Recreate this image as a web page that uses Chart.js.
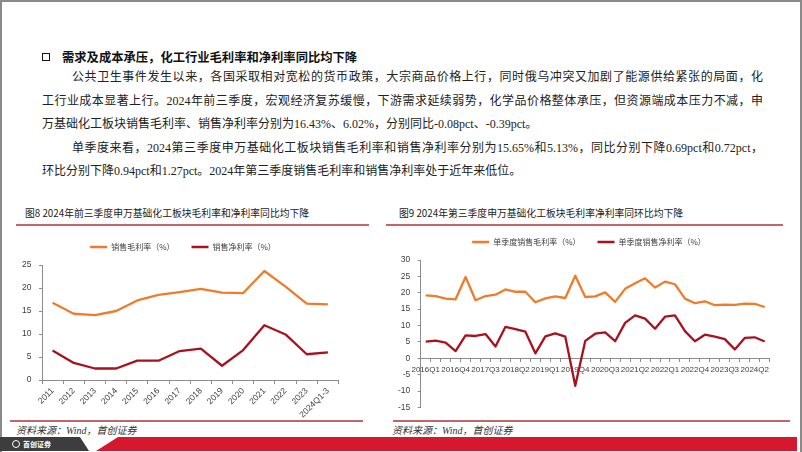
<!DOCTYPE html>
<html lang="zh">
<head>
<meta charset="UTF-8">
<title>化工行业毛利率和净利率</title>
<script src="https://cdn.jsdelivr.net/npm/chart.js"></script>
<style>
    html, body { margin: 0; padding: 0; background: #fff; }
    .page {
        position: relative;
        width: 802px;
        height: 452px;
        overflow: hidden;
        font-family: "Noto Sans CJK SC", sans-serif;
        color: #222;
    }
    .frame {
        position: absolute; left: 0; top: 0; width: 798px; height: 452px;
        border: 2px solid #8a8a8a; border-bottom: none;
    }
    .abs { position: absolute; white-space: nowrap; }
    .heading { left: 62px; top: 49px; font-size: 12.3px; line-height: 16px; font-weight: bold; color: #111; }
    .box { left: 42px; top: 53px; width: 6px; height: 6px; border: 1.6px solid #111; }
    .ln {
        position: absolute; height: 16px; line-height: 16px;
        font-family: "Liberation Serif", "Noto Sans CJK SC", serif;
        font-size: 12px; color: #222; white-space: nowrap;
    }
    .ln.full { text-align: justify; text-align-last: justify; white-space: normal; overflow: hidden; }
    .ctitle { font-size: 9.8px; line-height: 14px; color: #222; }
    .rule { position: absolute; height: 2px; background: #c2656d; }
    .src { font-family: "Liberation Serif", "Noto Sans CJK SC", serif; font-style: italic; font-size: 10px; line-height: 12px; color: #333; }
    canvas { position: absolute; }
    .banner { position: absolute; left: 0; top: 437px; width: 797px; height: 14px; }
    .banner .red { position: absolute; inset: 0; background: #d5182d; clip-path: polygon(118px 0, 100% 0, 100% 100%, 96px 100%); }
    .banner .gray { position: absolute; inset: 0; background: #3d3d3d; clip-path: polygon(0 0, 80px 0, 89px 100%, 0 100%); }
    .logo { position: absolute; left: 12px; top: 2px; color: #fff; font-size: 7px; line-height: 10px; font-weight: bold; }
    .logo span { display: inline-block; width: 6px; height: 6px; border: 1.3px solid #fff; border-radius: 50%; vertical-align: -1px; margin-right: 3px; }
</style>
</head>
<body>
<div class="page">
    <div class="frame"></div>

    <div class="abs box"></div>
    <div class="abs heading">需求及成本承压，化工行业毛利率和净利率同比均下降</div>

    <div class="ln full" style="top:69px;left:72px;width:691px">公共卫生事件发生以来，各国采取相对宽松的货币政策，大宗商品价格上行，同时俄乌冲突又加剧了能源供给紧张的局面，化</div>
    <div class="ln full" style="top:92.5px;left:42px;width:721px">工行业成本显著上行。2024年前三季度，宏观经济复苏缓慢，下游需求延续弱势，化学品价格整体承压，但资源端成本压力不减，申</div>
    <div class="ln" style="top:116px;left:42px">万基础化工板块销售毛利率、销售净利率分别为16.43%、6.02%，分别同比-0.08pct、-0.39pct。</div>
    <div class="ln full" style="top:139.5px;left:72px;width:691px">单季度来看，2024第三季度申万基础化工板块销售毛利率和销售净利率分别为15.65%和5.13%，同比分别下降0.69pct和0.72pct，</div>
    <div class="ln" style="top:163px;left:42px">环比分别下降0.94pct和1.27pct。2024年第三季度销售毛利率和销售净利率处于近年来低位。</div>

    <div class="abs ctitle" style="left:25px;top:206px">图8 2024年前三季度申万基础化工板块毛利率和净利率同比均下降</div>
    <div class="abs ctitle" style="left:399px;top:206px">图9 2024年第三季度申万基础化工板块毛利率净利率同环比均下降</div>
    <div class="rule" style="left:16px;top:224px;width:353px"></div>
    <div class="rule" style="left:386px;top:224px;width:397px"></div>

    <canvas id="annualChart" width="350" height="194" style="left:0;top:226px"></canvas>
    <canvas id="quarterChart" width="400" height="199" style="left:390px;top:221px"></canvas>

    <div class="rule" style="left:10px;top:420px;width:353px"></div>
    <div class="rule" style="left:393px;top:420px;width:397px"></div>
    <div class="abs src" style="left:16px;top:425px">资料来源：Wind，首创证券</div>
    <div class="abs src" style="left:392px;top:425px">资料来源：Wind，首创证券</div>

    <div class="banner">
        <div class="red"></div>
        <div class="gray"></div>
        <div class="logo"><span></span>首创证券</div>
    </div>
</div>

<script>
    // 图8: 年度数据
    const years = ['2011', '2012', '2013', '2014', '2015', '2016', '2017', '2018', '2019', '2020', '2021', '2022', '2023', '2024Q1-3'];
    const grossAnnual = [16.8, 14.4, 14.1, 15.0, 17.3, 18.5, 19.1, 19.8, 19.0, 18.9, 23.7, 20.3, 16.6, 16.43];
    const netAnnual = [6.4, 3.7, 2.5, 2.5, 4.2, 4.2, 6.3, 6.8, 3.1, 6.5, 11.9, 9.9, 5.6, 6.02];

    // 图9: 单季度数据
    const quarters = ['2016Q1', '2016Q2', '2016Q3', '2016Q4', '2017Q1', '2017Q2', '2017Q3', '2017Q4',
        '2018Q1', '2018Q2', '2018Q3', '2018Q4', '2019Q1', '2019Q2', '2019Q3', '2019Q4',
        '2020Q1', '2020Q2', '2020Q3', '2020Q4', '2021Q1', '2021Q2', '2021Q3', '2021Q4',
        '2022Q1', '2022Q2', '2022Q3', '2022Q4', '2023Q1', '2023Q2', '2023Q3', '2023Q4',
        '2024Q1', '2024Q2', '2024Q3'];
    const grossQuarter = [19.2, 19.0, 18.2, 18.0, 24.8, 17.7, 19.0, 19.4, 21.0, 20.3, 20.3, 17.1,
        18.3, 18.9, 18.4, 25.2, 18.7, 18.9, 20.1, 17.2, 21.2, 22.9, 24.4, 21.6,
        23.4, 22.6, 18.2, 16.8, 17.4, 16.2, 16.34, 16.3, 16.7, 16.59, 15.65];
    const netQuarter = [5.1, 5.4, 4.8, 2.2, 7.0, 6.8, 7.4, 3.6, 9.6, 8.9, 8.1, 1.5,
        6.7, 7.6, 6.6, -8.4, 5.3, 7.5, 7.9, 5.2, 10.8, 13.1, 12.1, 9.0,
        12.7, 13.1, 8.3, 5.2, 7.2, 6.6, 5.85, 2.7, 6.2, 6.4, 5.13];
    const quarterTickStep = 3;

    const ORANGE = '#ee7d2b';
    const DARKRED = '#a8121f';
    const AXIS = '#8c8c8c';
    const tickFont = { family: 'Liberation Sans', size: 8.5 };
    const quarterFont = { family: 'Liberation Sans', size: 8 };
    const legendFont = { family: 'Noto Sans CJK SC', size: 8 };

    // extra room under the legend, and slide it sideways to where the report has it
    const legendTweak = {
        id: 'legendTweak',
        beforeLayout(chart, args, opts) {
            const lg = chart.legend;
            if (lg && !lg._tweaked) {
                const fit = lg.fit;
                lg.fit = function () { fit.call(this); this.height += opts.gap || 0; };
                lg._tweaked = true;
            }
        },
        afterLayout(chart, args, opts) {
            const lg = chart.legend;
            if (lg) {
                lg.left += opts.dx || 0;
                lg.right += opts.dx || 0;
            }
        }
    };

    function lineSet(label, data, color) {
        return {
            label: label,
            data: data,
            borderColor: color,
            backgroundColor: color,
            borderWidth: 2.3,
            pointBorderWidth: 2.5,
            pointRadius: 0,
            pointStyle: 'line',
            tension: 0,
            borderJoinStyle: 'round',
            fill: false
        };
    }

    function legendOpts() {
        return {
            display: true,
            position: 'top',
            labels: {
                usePointStyle: true,
                pointStyleWidth: 17,
                padding: 17,
                color: '#404040',
                font: legendFont
            }
        };
    }

    function yAxis(min, max, width) {
        return {
            min: min,
            max: max,
            afterFit: (scale) => { scale.width = width; },
            ticks: { stepSize: 5, color: '#404040', font: tickFont, padding: 7.5 },
            grid: { drawOnChartArea: false, drawTicks: true, tickLength: 3, color: AXIS },
            border: { display: true, color: AXIS, width: 1 }
        };
    }

    new Chart(document.getElementById('annualChart'), {
        type: 'line',
        data: {
            labels: years,
            datasets: [
                lineSet('销售毛利率（%）', grossAnnual, ORANGE),
                lineSet('销售净利率（%）', netAnnual, DARKRED)
            ]
        },
        options: {
            responsive: false,
            animation: false,
            layout: { padding: { left: 0, right: 11.5, top: 0, bottom: 0 } },
            plugins: {
                legend: legendOpts(),
                legendTweak: { gap: 4, dx: 13.75 },
                tooltip: { enabled: false }
            },
            scales: {
                x: {
                    offset: true,
                    afterFit: (scale) => { scale.height = 40; },
                    ticks: { autoSkip: false, minRotation: 45, maxRotation: 45, color: '#404040', font: tickFont, padding: 2 },
                    grid: { offset: true, drawOnChartArea: false, drawTicks: true, tickLength: 4, color: AXIS },
                    border: { display: true, color: AXIS, width: 1 }
                },
                y: yAxis(0, 25, 42)
            }
        },
        plugins: [legendTweak]
    });

    new Chart(document.getElementById('quarterChart'), {
        type: 'line',
        data: {
            labels: quarters,
            datasets: [
                lineSet('单季度销售毛利率（%）', grossQuarter, ORANGE),
                lineSet('单季度销售净利率（%）', netQuarter, DARKRED)
            ]
        },
        options: {
            responsive: false,
            animation: false,
            layout: { padding: { left: 0, right: 20.3, top: 0, bottom: 11.3 } },
            plugins: {
                legend: legendOpts(),
                legendTweak: { gap: 4, dx: 9.15 },
                tooltip: { enabled: false }
            },
            scales: {
                x: {
                    offset: true,
                    position: { y: 0 },
                    ticks: {
                        autoSkip: false,
                        maxRotation: 0,
                        minRotation: 0,
                        color: '#404040',
                        font: quarterFont,
                        padding: 4,
                        callback: (value, index) => index % quarterTickStep === 0 ? quarters[index] : ''
                    },
                    grid: { offset: true, drawOnChartArea: false, drawTicks: true, tickLength: 3, color: AXIS },
                    border: { display: true, color: AXIS, width: 1 }
                },
                y: yAxis(-15, 30, 30.7)
            }
        },
        plugins: [legendTweak]
    });
</script>
</body>
</html>
